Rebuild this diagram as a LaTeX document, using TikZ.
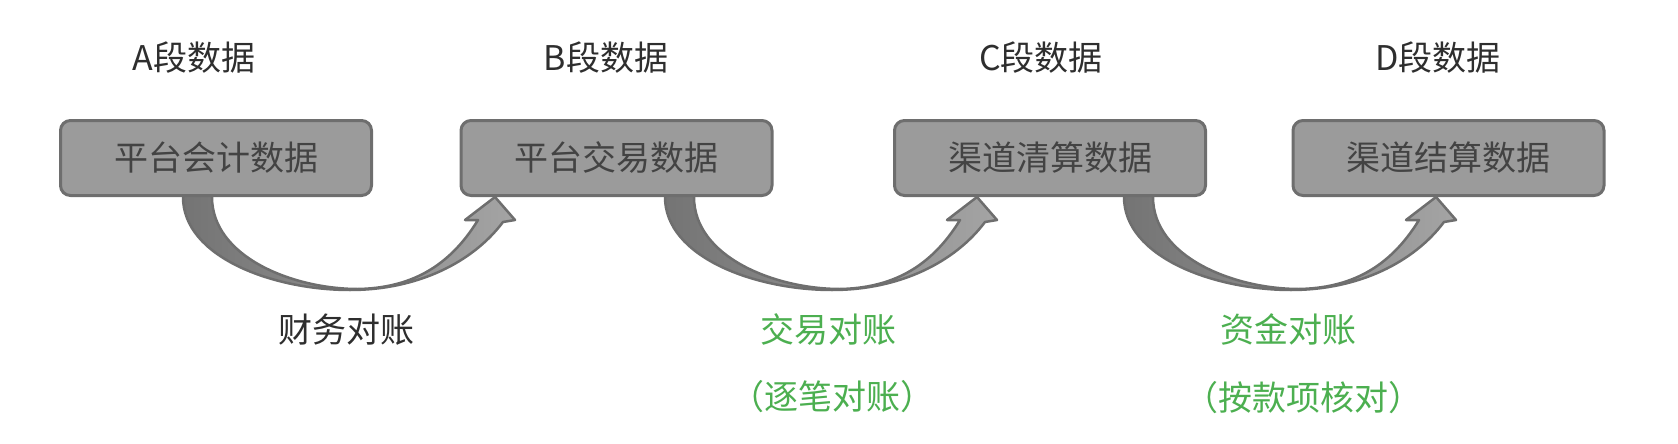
\documentclass[tikz,border=0pt]{standalone}
\usepackage{fontspec}
\newfontfamily\cjk{Noto Sans CJK SC}
\usetikzlibrary{calc,backgrounds}
\definecolor{boxfill}{HTML}{9B9B9B}
\definecolor{boxline}{HTML}{6E6E6E}
\definecolor{txtdark}{HTML}{2E2E2E}
\definecolor{checkgreen}{HTML}{4CAF50}
\definecolor{arrowdark}{HTML}{747474}
\definecolor{arrowlight}{HTML}{A4A4A4}

\begin{document}
\begin{tikzpicture}[x=1pt, y=-1pt,
    databox/.style={draw=boxline, fill=boxfill, line width=3pt, rounded corners=10pt,
        minimum width=311pt, minimum height=75pt, font=\cjk\fontsize{34}{40}\selectfont, text=txtdark!90},
    stage/.style={font=\cjk\fontsize{34}{40}\selectfont, text=txtdark},
    check/.style={font=\cjk\fontsize{34}{40}\selectfont, text=checkgreen},
    bendarrow/.pic={
        \path[draw=boxline, line width=2.5pt, line join=round, left color=arrowdark, right color=arrowlight]
            (0,-4) -- (0,0) .. controls (0,60) and (90,93) .. (167,93)
            .. controls (235,93) and (290,65) .. (320,25) -- (332,23) -- (312,0) -- (282,23) -- (295,23)
            .. controls (265,72) and (225,91) .. (175,92)
            .. controls (110,92) and (29,60) .. (29,0) -- (29,-4) -- cycle;
    }]
        \useasboundingbox (0,0) rectangle (1678,444);

        \path (194, 58)    node[stage] (ta) {A段数据};
        \path (606, 58)    node[stage] (tb) {B段数据};
        \path (1041, 58)   node[stage] (tc) {C段数据};
        \path (1438, 58)   node[stage] (td) {D段数据};

        \path (216, 158)   node[databox] (acct)   {平台会计数据};
        \path (616.5, 158) node[databox] (trade)  {平台交易数据};
        \path (1050, 158)  node[databox] (clear)  {渠道清算数据};
        \path (1448.5, 158) node[databox] (settle) {渠道结算数据};

        \begin{pgfonlayer}{background}
            \pic at ($(acct.south)+(-33,0)$)   {bendarrow};
            \pic at ($(trade.south)+(48.5,0)$) {bendarrow};
            \pic at ($(clear.south)+(74,0)$)   {bendarrow};
        \end{pgfonlayer}

        \path (346, 330)   node[check, text=txtdark] (fin)   {财务对账};
        \path (828, 330)   node[check] (trd)     {交易对账};
        \path (832, 397)   node[check] (trdsub)  {（逐笔对账）};
        \path (1288, 330)  node[check] (fund)    {资金对账};
        \path (1303, 398)  node[check] (fundsub) {（按款项核对）};
    \end{tikzpicture}
\end{document}
